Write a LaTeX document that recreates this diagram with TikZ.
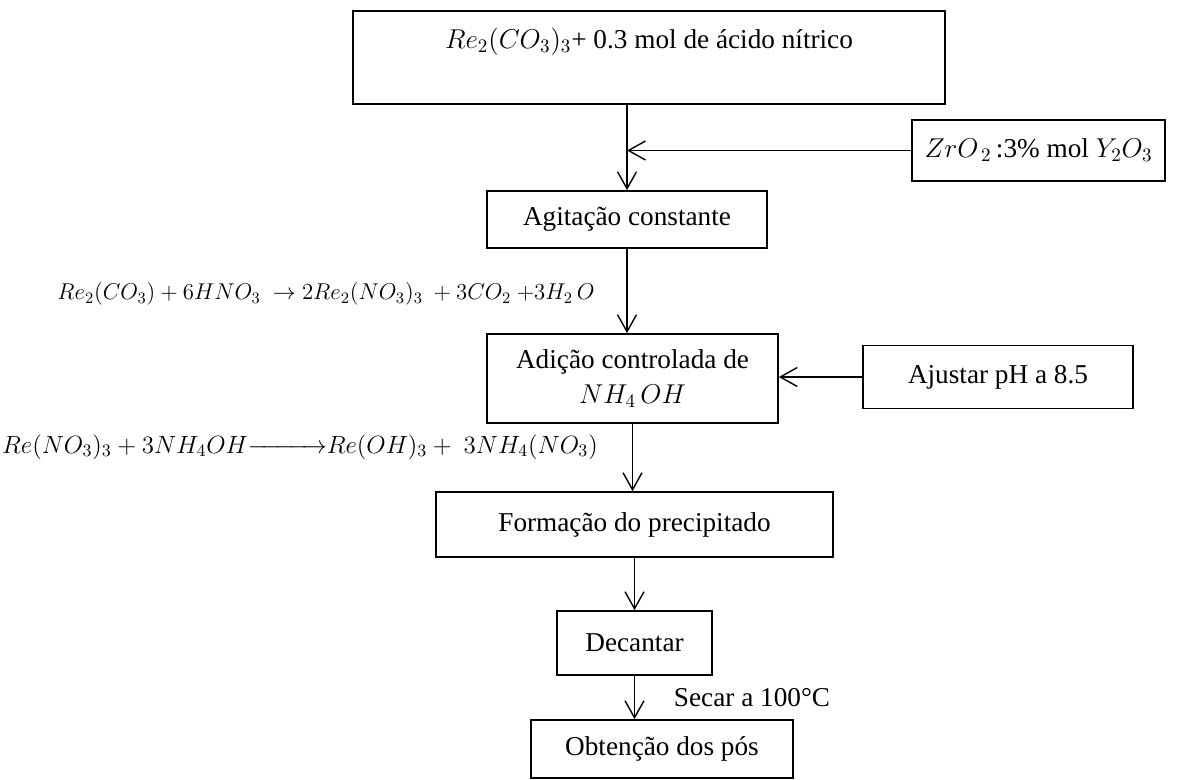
\documentclass[tikz,border=0pt]{standalone}
\usepackage{fix-cm}
\usepackage{amsmath}
\usepackage{fontspec}
\setmainfont{Liberation Serif}
\usetikzlibrary{arrows.meta}

\tikzset{
  caixa/.style={draw, line width=1pt, align=center, inner sep=2pt},
  reacao/.style={font=\fontsize{14.2}{17}\selectfont},
  seta/.style={line width=0.8pt, -{Straight Barb[length=3.4mm,width=3.8mm]}}
}

\begin{document}
\begin{tikzpicture}[x=0.02cm, y=-0.02cm, font=\fontsize{15.5}{19.8}\selectfont]
\useasboundingbox (0,0) rectangle (1182,780);
% caixas do processo
\node [caixa, minimum width=11.84cm, minimum height=1.86cm] (mistura) at (649,57.5) {$Re_2(CO_3)_3$+ 0.3 mol de ácido nítrico\\[-4pt]\strut};
\node [caixa, minimum width=5.06cm, minimum height=1.22cm] (zircon) at (1038.5,150.5) {$ZrO_{\,2}$\,:3\% mol $Y_2O_3$};
\node [caixa, minimum width=5.6cm, minimum height=1.14cm] (agitacao) at (627,219.5) {Agitação constante};
\node [caixa, minimum width=5.82cm, minimum height=1.78cm] (adicao) at (632.5,378.5) {Adição controlada de\\$NH_4\,OH$};
\node [caixa, minimum width=5.4cm, minimum height=1.26cm] (ajuste) at (998,377) {Ajustar pH a 8.5};
\node [caixa, minimum width=7.94cm, minimum height=1.3cm] (formacao) at (634.5,524.5) {Formação do precipitado};
\node [caixa, minimum width=3.1cm, minimum height=1.28cm] (decantar) at (634.5,643) {Decantar};
\node [caixa, minimum width=5.24cm, minimum height=1.16cm] (obtencao) at (662,749) {Obtenção dos pós};
% reacoes
\node [reacao, font=\fontsize{13}{16}\selectfont] (reacao1) at (326,294) {$Re_2(CO_3) + 6HNO_3\ \to 2Re_2(NO_3)_3\ + 3CO_2\ {+}3H_2\,O$};
\node [reacao] (reacao2) at (300,447) {$Re(NO_3)_3 + 3NH_4OH{\xrightarrow{\hspace{1.3cm}}}Re(OH)_3 +\ 3NH_4(NO_3)$};
\node (secagem) at (752,698) {Secar a 100°C};
% setas
\draw [seta] (mistura.south -| agitacao.north) -- (agitacao.north);
\draw [seta] (zircon.west) -- (zircon.west -| agitacao.north);
\draw [seta] (agitacao.south) -- (agitacao.south |- adicao.north);
\draw [seta] (ajuste.west) -- (ajuste.west -| adicao.east);
\draw [seta] (adicao.south) -- (adicao.south |- formacao.north);
\draw [seta] (formacao) -- (decantar);
\draw [seta] (decantar.south) -- (decantar.south |- obtencao.north);
\end{tikzpicture}
\end{document}
